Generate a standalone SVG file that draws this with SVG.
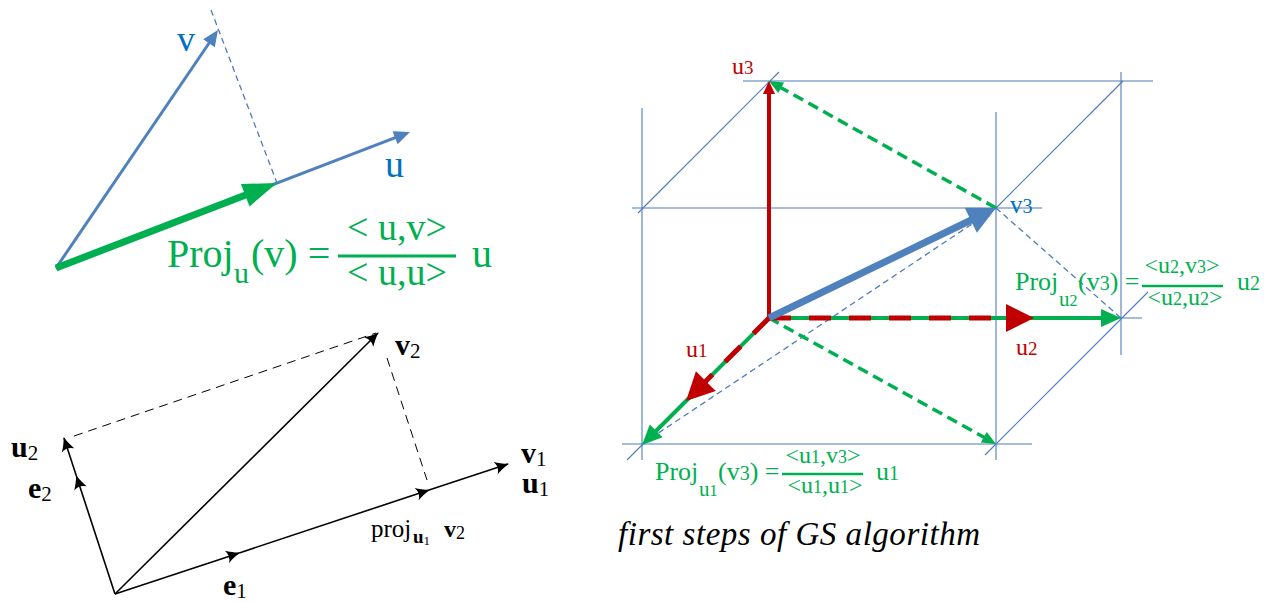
<svg xmlns="http://www.w3.org/2000/svg" width="1272" height="602" viewBox="0 0 1272 602">
<style>
.cube{stroke:#4f7bbb;stroke-width:1.1;fill:none}
.bdash{stroke:#4f7bbb;stroke-width:1.3;stroke-dasharray:6 4;fill:none}
.gdash{stroke:#00b050;stroke-width:3.5;stroke-dasharray:11 6;fill:none}
.gsolid{stroke:#00b050;stroke-width:4;fill:none}
.rdash{stroke:#c00000;stroke-width:5;stroke-dasharray:22 18;fill:none}
.blk{stroke:#000;stroke-width:1.6;fill:none}
.kdash{stroke:#000;stroke-width:1;stroke-dasharray:9 6;fill:none}
text{font-family:'Liberation Serif','DejaVu Serif',serif}
.g{fill:#00b050}
.r{fill:#c00000}
.b{fill:#0070c0}
.k{fill:#000}
.bd{font-weight:bold}
</style>
<defs>
<marker id="mBlueSm" markerUnits="userSpaceOnUse" viewBox="-12 -8 20 16" markerWidth="20" markerHeight="16" refX="0" refY="0" orient="auto"><path d="M6,0 L-10,-7 L-10,7 Z" fill="#4f81bd"/></marker>
<marker id="mGreenBig" markerUnits="userSpaceOnUse" viewBox="-16 -13 38 26" markerWidth="38" markerHeight="26" refX="0" refY="0" orient="auto"><path d="M20,0 L-14,-12 L-14,12 Z" fill="#00b050"/></marker>
<marker id="mBlueBig" markerUnits="userSpaceOnUse" viewBox="-14 -15 32 30" markerWidth="32" markerHeight="30" refX="0" refY="0" orient="auto"><path d="M16,0 L-12,-14 L-12,14 Z" fill="#4f81bd"/></marker>
<marker id="mGreenMid" markerUnits="userSpaceOnUse" viewBox="-10 -10 24 20" markerWidth="24" markerHeight="20" refX="0" refY="0" orient="auto"><path d="M12,0 L-8,-9 L-8,9 Z" fill="#00b050"/></marker>
<marker id="mGreenSm" markerUnits="userSpaceOnUse" viewBox="-10 -7 18 14" markerWidth="18" markerHeight="14" refX="0" refY="0" orient="auto"><path d="M6,0 L-8,-6 L-8,6 Z" fill="#00b050"/></marker>
<marker id="mRedSm" markerUnits="userSpaceOnUse" viewBox="-9 -7 17 14" markerWidth="17" markerHeight="14" refX="0" refY="0" orient="auto"><path d="M6,0 L-7,-6 L-7,6 Z" fill="#c00000"/></marker>
<marker id="mRedBig" markerUnits="userSpaceOnUse" viewBox="-6 -15 32 30" markerWidth="32" markerHeight="30" refX="0" refY="0" orient="auto"><path d="M24,0 L-4,-14 L-4,14 Z" fill="#c00000"/></marker>
<marker id="mLatex" markerUnits="userSpaceOnUse" viewBox="-15 -7 17 14" markerWidth="17" markerHeight="14" refX="0" refY="0" orient="auto"><path d="M1,0 C-4,-1.5 -9,-4 -13,-6.5 Q-9,0 -13,6.5 C-9,4 -4,1.5 1,0 Z" fill="#000"/></marker>
</defs>

<g id="connectors">
  <line x1="211" y1="10" x2="277" y2="183" class="bdash" stroke-width="1.5"/>
  <line x1="56" y1="268" x2="214.6" y2="35" stroke="#4f81bd" stroke-width="3" marker-end="url(#mBlueSm)"/>
  <line x1="56" y1="268" x2="404.4" y2="134.2" stroke="#4f81bd" stroke-width="3" marker-end="url(#mBlueSm)"/>
  <line x1="56" y1="268" x2="258.3" y2="190.2" stroke="#00b050" stroke-width="7" marker-end="url(#mGreenBig)"/>

  <line x1="74" y1="436" x2="376" y2="333" class="kdash"/>
  <line x1="387" y1="358" x2="427" y2="480" class="kdash"/>
  <line x1="115" y1="594" x2="378" y2="333" class="blk" marker-end="url(#mLatex)"/>
  <line x1="115" y1="594" x2="76.4" y2="476" class="blk" marker-end="url(#mLatex)"/>
  <line x1="76.4" y1="476" x2="64" y2="438" class="blk" marker-end="url(#mLatex)"/>
  <line x1="115" y1="594" x2="239.3" y2="552.9" class="blk" marker-end="url(#mLatex)"/>
  <line x1="239.3" y1="552.9" x2="429" y2="490" class="blk" marker-end="url(#mLatex)"/>
  <line x1="429" y1="490" x2="508" y2="464" class="blk" marker-end="url(#mLatex)"/>

  <line x1="642" y1="108" x2="642" y2="460" class="cube"/>
  <line x1="632" y1="208" x2="1042" y2="208" class="cube"/>
  <line x1="996" y1="112" x2="996" y2="460" class="cube"/>
  <line x1="622" y1="444" x2="1032" y2="444" class="cube"/>
  <line x1="743" y1="81" x2="1153" y2="81" class="cube"/>
  <line x1="1121" y1="72" x2="1121" y2="355" class="cube"/>
  <line x1="769" y1="318" x2="1142" y2="318" class="cube"/>
  <line x1="638" y1="213" x2="779" y2="72" class="cube"/>
  <line x1="996" y1="208" x2="1123" y2="81" class="cube"/>
  <line x1="985" y1="455" x2="1148" y2="292" class="cube"/>
  <line x1="627" y1="460" x2="769" y2="318" class="cube"/>
  <line x1="642" y1="444" x2="996" y2="208" class="bdash"/>
  <line x1="996" y1="208" x2="1121" y2="318" class="bdash"/>

  <line x1="996" y1="208" x2="774.2" y2="83.9" class="gdash" marker-end="url(#mGreenSm)"/>
  <line x1="769" y1="318" x2="990.8" y2="441.1" class="gdash" stroke-width="2.5" marker-end="url(#mGreenSm)"/>
  <line x1="769" y1="318" x2="1109" y2="318" class="gsolid" marker-end="url(#mGreenMid)"/>
  <line x1="769" y1="318" x2="650.5" y2="436.5" class="gsolid" marker-end="url(#mGreenMid)"/>
  <line x1="769" y1="318" x2="1010" y2="318" class="rdash" marker-end="url(#mRedBig)"/>
  <line x1="769" y1="318" x2="703" y2="384" class="rdash" marker-end="url(#mRedBig)"/>
  <line x1="769" y1="318" x2="769" y2="87" stroke="#c00000" stroke-width="4" marker-end="url(#mRedSm)"/>
  <line x1="769" y1="318" x2="981.6" y2="215" stroke="#4f81bd" stroke-width="7" marker-end="url(#mBlueBig)"/>
</g>

<g id="label-v"><text x="177" y="51" class="b" font-size="36">v</text></g>
<g id="label-u"><text x="385" y="177" class="b" font-size="38">u</text></g>
<g id="formula-proj">
  <text x="167" y="267" class="g" font-size="40">Proj</text>
  <text x="234" y="283" class="g" font-size="30">u</text>
  <text x="251" y="267" class="g" font-size="40">(v) =</text>
  <line x1="338" y1="256" x2="456" y2="256" stroke="#00b050" stroke-width="3"/>
  <text x="397" y="240" class="g" font-size="38" text-anchor="middle">&lt; u,v&gt;</text>
  <text x="397" y="285" class="g" font-size="38" text-anchor="middle">&lt; u,u&gt;</text>
  <text x="472" y="267" class="g" font-size="40">u</text>
</g>

<g id="label-v2"><text x="395" y="355" class="k bd" font-size="30">v<tspan font-size="21" font-weight="normal" dy="3">2</tspan></text></g>
<g id="label-u2b"><text x="11" y="457" class="k bd" font-size="30">u<tspan font-size="21" font-weight="normal" dy="3">2</tspan></text></g>
<g id="label-e2"><text x="28" y="498" class="k bd" font-size="30">e<tspan font-size="21" font-weight="normal" dy="3">2</tspan></text></g>
<g id="label-v1"><text x="521" y="463" class="k bd" font-size="30">v<tspan font-size="21" font-weight="normal" dy="3">1</tspan></text></g>
<g id="label-u1b"><text x="522" y="493" class="k bd" font-size="30">u<tspan font-size="21" font-weight="normal" dy="3">1</tspan></text></g>
<g id="label-e1"><text x="223" y="595" class="k bd" font-size="30">e<tspan font-size="21" font-weight="normal" dy="3">1</tspan></text></g>
<g id="label-proj">
  <text x="371" y="537" class="k" font-size="25">proj</text>
  <text x="413" y="543" class="k bd" font-size="19">u<tspan font-size="13" font-weight="normal" dy="2">1</tspan></text>
  <text x="444" y="537" class="k bd" font-size="24">v<tspan font-size="18" font-weight="normal" dy="2">2</tspan></text>
</g>

<g id="label-u3"><text x="732" y="74" class="r" font-size="24">u<tspan font-size="19">3</tspan></text></g>
<g id="label-v3"><text x="1010" y="213" class="b" font-size="25">v<tspan font-size="20">3</tspan></text></g>
<g id="label-u1"><text x="686" y="357" class="r" font-size="24">u<tspan font-size="19">1</tspan></text></g>
<g id="label-u2"><text x="1016" y="355" class="r" font-size="24">u<tspan font-size="19">2</tspan></text></g>

<g id="formula-u2">
  <text x="1015" y="290" class="g" font-size="26">Proj</text>
  <text x="1059" y="306" class="g" font-size="21">u<tspan font-size="16">2</tspan></text>
  <text x="1078" y="290" class="g" font-size="26">(v<tspan font-size="20">3</tspan>) =</text>
  <line x1="1142" y1="286" x2="1223" y2="286" stroke="#00b050" stroke-width="2.5"/>
  <text x="1182" y="273" class="g" font-size="24" text-anchor="middle">&lt;u<tspan font-size="18">2</tspan>,v<tspan font-size="18">3</tspan>&gt;</text>
  <text x="1185" y="305" class="g" font-size="24" text-anchor="middle">&lt;u<tspan font-size="18">2</tspan>,u<tspan font-size="18">2</tspan>&gt;</text>
  <text x="1237" y="290" class="g" font-size="26">u<tspan font-size="20">2</tspan></text>
</g>

<g id="formula-u1">
  <text x="655" y="480" class="g" font-size="26">Proj</text>
  <text x="699" y="496" class="g" font-size="21">u<tspan font-size="16">1</tspan></text>
  <text x="718" y="480" class="g" font-size="26">(v<tspan font-size="20">3</tspan>) =</text>
  <line x1="782" y1="474" x2="863" y2="474" stroke="#00b050" stroke-width="2.5"/>
  <text x="823" y="463" class="g" font-size="24" text-anchor="middle">&lt;u<tspan font-size="18">1</tspan>,v<tspan font-size="18">3</tspan>&gt;</text>
  <text x="825" y="493" class="g" font-size="24" text-anchor="middle">&lt;u<tspan font-size="18">1</tspan>,u<tspan font-size="18">1</tspan>&gt;</text>
  <text x="876" y="480" class="g" font-size="26">u<tspan font-size="20">1</tspan></text>
</g>

<g id="caption"><text x="618" y="545" class="k" font-size="33" font-style="italic" textLength="362" lengthAdjust="spacing">first steps of GS algorithm</text></g>
</svg>
